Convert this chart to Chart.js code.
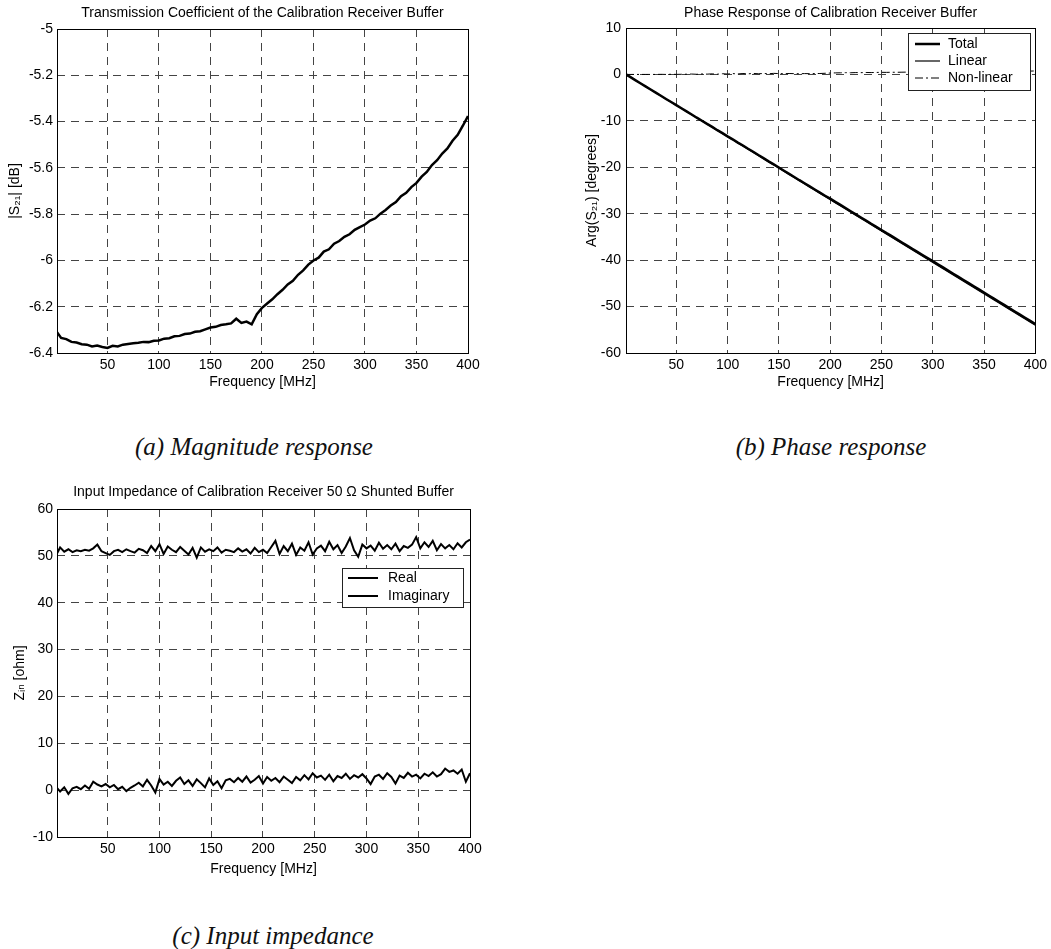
<!DOCTYPE html>
<html><head><meta charset="utf-8">
<script src="https://cdn.jsdelivr.net/npm/chart.js@4"></script>
<style>
body{margin:0;background:#fff;width:1051px;height:949px;position:relative;overflow:hidden}
canvas{position:absolute}
.cap{position:absolute;font-family:"Liberation Serif","Times New Roman",serif;font-style:italic;font-size:25px;color:#111;white-space:nowrap;transform:translate(-50%,-50%)}
</style></head><body>
<canvas id="cA" width="520" height="400" style="left:0;top:0"></canvas>
<canvas id="cB" width="531" height="400" style="left:520px;top:0"></canvas>
<canvas id="cC" width="520" height="420" style="left:0;top:480px"></canvas>
<div class="cap" style="left:254px;top:447px">(a) Magnitude response</div>
<div class="cap" style="left:831px;top:447px">(b) Phase response</div>
<div class="cap" style="left:273px;top:936px">(c) Input impedance</div>
<script>
// ---------- data ----------
const xTicks = [50,100,150,200,250,300,350,400];
const xTickLabels = ['50','100','150','200','250','300','350','400'];

const magTicks = [-6.4,-6.2,-6,-5.8,-5.6,-5.4,-5.2,-5];
const magTickLabels = ['-6.4','-6.2','-6','-5.8','-5.6','-5.4','-5.2','-5'];
const phaseTicks = [-60,-50,-40,-30,-20,-10,0,10];
const phaseTickLabels = ['-60','-50','-40','-30','-20','-10','0','10'];
const zTicks = [-10,0,10,20,30,40,50,60];
const zTickLabels = ['-10','0','10','20','30','40','50','60'];

const freqM = [1,5,10,15,20,25,30,35,40,45,50,55,60,65,70,75,80,85,90,95,100,105,110,115,120,125,130,135,140,145,150,155,160,165,170,175,180,185,190,195,200,205,210,215,220,225,230,235,240,245,250,255,260,265,270,275,280,285,290,295,300,305,310,315,320,325,330,335,340,345,350,355,360,365,370,375,380,385,390,395,400];

const magnitudeDb = [-6.31,-6.335,-6.34,-6.352,-6.355,-6.362,-6.364,-6.372,-6.368,-6.374,
 -6.378,-6.369,-6.372,-6.364,-6.361,-6.358,-6.356,-6.352,-6.353,-6.347,
 -6.346,-6.338,-6.336,-6.328,-6.326,-6.318,-6.316,-6.308,-6.306,-6.298,
 -6.29,-6.287,-6.279,-6.276,-6.272,-6.252,-6.27,-6.264,-6.276,-6.232,
 -6.205,-6.186,-6.168,-6.146,-6.127,-6.104,-6.088,-6.062,-6.043,-6.018,
 -6.0,-5.988,-5.962,-5.952,-5.928,-5.916,-5.898,-5.887,-5.868,-5.856,
 -5.845,-5.828,-5.818,-5.798,-5.782,-5.763,-5.748,-5.722,-5.708,-5.683,
 -5.665,-5.638,-5.618,-5.588,-5.567,-5.538,-5.516,-5.483,-5.457,-5.418,
 -5.376];

const phaseTotal = [0,-0.54,-1.22,-1.89,-2.57,-3.25,-3.92,-4.59,-5.28,-5.94,
 -6.62,-7.29,-7.96,-8.62,-9.32,-9.97,-10.66,-11.31,-12.01,-12.65,
 -13.34,-13.97,-14.68,-15.31,-16.02,-16.66,-17.36,-18.02,-18.72,-19.36,
 -20.06,-20.74,-21.41,-22.09,-22.78,-23.43,-24.12,-24.79,-25.46,-26.12,
 -26.76,-27.44,-28.11,-28.78,-29.47,-30.13,-30.81,-31.47,-32.17,-32.82,
 -33.5,-34.19,-34.84,-35.53,-36.2,-36.86,-37.55,-38.21,-38.9,-39.56,
 -40.22,-40.91,-41.57,-42.25,-42.92,-43.61,-44.27,-44.96,-45.63,-46.31,
 -46.98,-47.67,-48.34,-49.02,-49.7,-50.38,-51.05,-51.73,-52.4,-53.09,
 -53.76];

const phaseNonLinear = [0,0,0,0,0,0,0,0.02,0,0.03,
 0.01,0.03,0.05,0.08,0.03,0.1,0.06,0.12,0.05,0.15,
 0.08,0.18,0.1,0.2,0.12,0.22,0.14,0.2,0.15,0.23,
 0.18,0.16,0.2,0.17,0.15,0.18,0.16,0.19,0.2,0.25,
 0.3,0.33,0.35,0.38,0.36,0.4,0.38,0.42,0.4,0.43,
 0.45,0.44,0.47,0.46,0.48,0.5,0.49,0.52,0.5,0.53,
 0.55,0.54,0.56,0.55,0.58,0.57,0.6,0.58,0.61,0.6,
 0.62,0.63,0.61,0.64,0.66,0.65,0.68,0.67,0.7,0.72,
 0.75];

const linearFreq = [1,400];
const phaseLinear = [0,-54];

const freqZ = [1,4,8,12,16,20,24,28,32,36,40,44,48,52,56,60,64,68,72,76,80,84,88,92,96,100,104,108,112,116,120,124,128,132,136,140,144,148,152,156,160,164,168,172,176,180,184,188,192,196,200,204,208,212,216,220,224,228,232,236,240,244,248,252,256,260,264,268,272,276,280,284,288,292,296,300,304,308,312,316,320,324,328,332,336,340,344,348,352,356,360,364,368,372,376,380,384,388,392,396,400];

const zReal = [50.5,51.8,50.9,51.4,50.8,51.2,51.0,51.3,51.1,51.6,
 52.4,51.0,50.6,50.2,51.0,51.3,50.8,51.4,51.0,50.7,
 51.5,51.2,50.6,52.1,51.0,52.5,50.4,52.0,51.3,50.8,
 51.9,51.1,50.3,51.7,49.6,51.8,50.9,51.4,51.0,51.8,
 50.7,51.3,51.1,50.8,51.6,50.9,51.4,50.5,51.7,50.8,
 51.3,50.6,51.9,53.2,50.4,52.1,51.0,52.6,50.2,51.8,
 51.1,52.9,50.3,51.6,52.2,51.0,53.0,51.4,52.3,50.6,
 52.0,53.8,51.2,49.8,52.4,51.6,52.2,51.1,52.8,51.5,
 52.3,51.4,52.6,51.0,52.1,51.7,52.4,54.0,51.6,52.9,
 51.9,53.2,51.2,52.5,51.6,52.3,51.4,52.7,51.8,52.9,
 53.5];

const zImag = [0.5,-0.3,0.6,-0.8,0.4,0.7,0.2,1.0,0.3,1.8,
 1.2,0.8,1.3,0.6,1.1,0.2,0.7,-0.2,0.5,1.0,
 1.6,0.8,2.2,1.0,-0.5,2.4,1.2,1.8,0.9,2.0,
 2.7,1.3,2.1,0.9,2.3,1.5,0.6,2.5,1.1,1.9,
 0.4,2.1,2.4,1.7,2.6,1.8,2.9,1.6,2.2,3.0,
 1.4,2.8,2.0,2.6,1.7,2.9,2.2,1.5,2.8,2.1,
 3.2,2.3,3.6,2.7,3.1,2.2,3.3,1.9,3.0,2.6,
 3.5,2.4,3.2,2.7,3.4,2.5,1.3,2.9,3.3,2.4,
 3.6,2.8,1.4,3.1,2.6,3.7,2.9,3.3,2.5,3.5,
 3.0,3.8,2.9,3.4,4.6,3.9,4.2,3.5,4.4,1.8,
 3.6];

// ---------- drawing ----------
const FONT = '"Liberation Sans", Arial, Helvetica, "DejaVu Sans", sans-serif';
const pts = (xs, ys) => xs.map((x, i) => ({x: x, y: ys[i]}));

const framePlugin = {
  id: 'frame',
  afterDraw(chart, args, opts) {
    const ctx = chart.ctx, a = chart.chartArea;
    ctx.save();
    ctx.setLineDash([]);
    ctx.strokeStyle = '#000'; ctx.lineWidth = 1;
    ctx.strokeRect(Math.round(a.left) + 0.5, Math.round(a.top) + 0.5, Math.round(a.right - a.left), Math.round(a.bottom - a.top));
    ctx.fillStyle = '#000';
    ctx.font = '14px ' + FONT;
    ctx.textAlign = 'center'; ctx.textBaseline = 'middle';
    ctx.fillText(opts.title, (a.left + a.right) / 2, opts.titleY);
    const L = opts.legend;
    if (L) {
      ctx.fillStyle = '#fff';
      ctx.fillRect(L.x, L.y, L.w, L.h);
      ctx.strokeStyle = '#222'; ctx.lineWidth = 1;
      ctx.strokeRect(L.x + 0.5, L.y + 0.5, L.w, L.h);
      L.items.forEach((idx, i) => {
        const ds = chart.data.datasets[idx];
        const y = L.y + L.first + i * L.step;
        ctx.beginPath();
        ctx.setLineDash(ds.borderDash || []);
        ctx.lineWidth = ds.borderWidth; ctx.strokeStyle = '#000';
        ctx.moveTo(L.x + L.sx0, y); ctx.lineTo(L.x + L.sx1, y); ctx.stroke();
        ctx.setLineDash([]);
        ctx.fillStyle = '#000'; ctx.textAlign = 'left';
        ctx.fillText(ds.label, L.x + L.tx, y);
      });
    }
    ctx.restore();
  }
};

function build(id, o) {
  return new Chart(document.getElementById(id), {
    type: 'line',
    data: { datasets: o.datasets },
    options: {
      responsive: false, animation: false, devicePixelRatio: 1,
      layout: { padding: { top: o.top, right: o.right, left: 0, bottom: 0 } },
      elements: { point: { radius: 0 }, line: { tension: 0 } },
      plugins: {
        legend: { display: false }, tooltip: { enabled: false }, title: { display: false },
        frame: { title: o.title, titleY: o.titleY, legend: o.legend }
      },
      scales: {
        x: {
          type: 'linear', min: 1, max: 400,
          afterBuildTicks: s => { s.ticks = xTicks.map(v => ({value: v})); },
          afterFit: s => { s.height = o.xh; },
          ticks: { callback: (v, i) => xTickLabels[i], font: {family: FONT, size: 14}, color: '#000', padding: 4, maxRotation: 0, autoSkip: false },
          grid: { color: '#444', lineWidth: 1, drawTicks: false },
          border: { display: false, dash: [8, 6] },
          title: { display: true, text: 'Frequency [MHz]', font: {family: FONT, size: 14}, color: '#000', padding: {top: 0, bottom: o.xtp} }
        },
        y: {
          type: 'linear', min: o.yTicks[0], max: o.yTicks[o.yTicks.length - 1],
          afterBuildTicks: s => { s.ticks = o.yTicks.map(v => ({value: v})); },
          afterFit: s => { s.width = o.yw; },
          ticks: { callback: (v, i) => o.yLabels[i], font: {family: FONT, size: 14}, color: '#000', padding: o.ytp, autoSkip: false },
          grid: { color: '#444', lineWidth: 1, drawTicks: false },
          border: { display: false, dash: [8, 6] },
          title: { display: true, text: o.yTitle, font: {family: FONT, size: 14}, color: '#000', padding: {top: o.ytitlePad, bottom: 0} }
        }
      }
    },
    plugins: [framePlugin]
  });
}

build('cA', {
  top: 29, right: 52, xh: 47, yw: 57, xtp: 9, ytp: 4, ytitlePad: 6.6,
  yTicks: magTicks, yLabels: magTickLabels, yTitle: '|S₂₁| [dB]',
  title: 'Transmission Coefficient of the Calibration Receiver Buffer', titleY: 13,
  datasets: [
    { label: '|S21|', data: pts(freqM, magnitudeDb), borderColor: '#000', borderWidth: 2.5, fill: false }
  ]
});

build('cB', {
  top: 28, right: 15, xh: 47, yw: 106, xtp: 9, ytp: 5, ytitlePad: 63.6,
  yTicks: phaseTicks, yLabels: phaseTickLabels, yTitle: 'Arg(S₂₁) [degrees]',
  title: 'Phase Response of Calibration Receiver Buffer', titleY: 13,
  datasets: [
    { label: 'Total', data: pts(freqM, phaseTotal), borderColor: '#000', borderWidth: 2.5, fill: false },
    { label: 'Linear', data: pts(linearFreq, phaseLinear), borderColor: '#000', borderWidth: 1.2, fill: false },
    { label: 'Non-linear', data: pts(freqM, phaseNonLinear), borderColor: '#000', borderWidth: 1, borderDash: [8, 3, 2, 3], fill: false }
  ],
  legend: { x: 388, y: 33, w: 122, h: 57, first: 11, step: 17, sx0: 7, sx1: 32, tx: 40, items: [0, 1, 2] }
});

build('cC', {
  top: 29, right: 50, xh: 63, yw: 57, xtp: 22, ytp: 4, ytitlePad: 12,
  yTicks: zTicks, yLabels: zTickLabels, yTitle: 'Zᵢₙ [ohm]',
  title: 'Input Impedance of Calibration Receiver 50 Ω Shunted Buffer', titleY: 12,
  datasets: [
    { label: 'Real', data: pts(freqZ, zReal), borderColor: '#000', borderWidth: 2, fill: false },
    { label: 'Imaginary', data: pts(freqZ, zImag), borderColor: '#000', borderWidth: 2, fill: false }
  ],
  legend: { x: 342, y: 88, w: 121, h: 39, first: 10, step: 18, sx0: 6, sx1: 36, tx: 46, items: [0, 1] }
});
</script>
</body></html>
